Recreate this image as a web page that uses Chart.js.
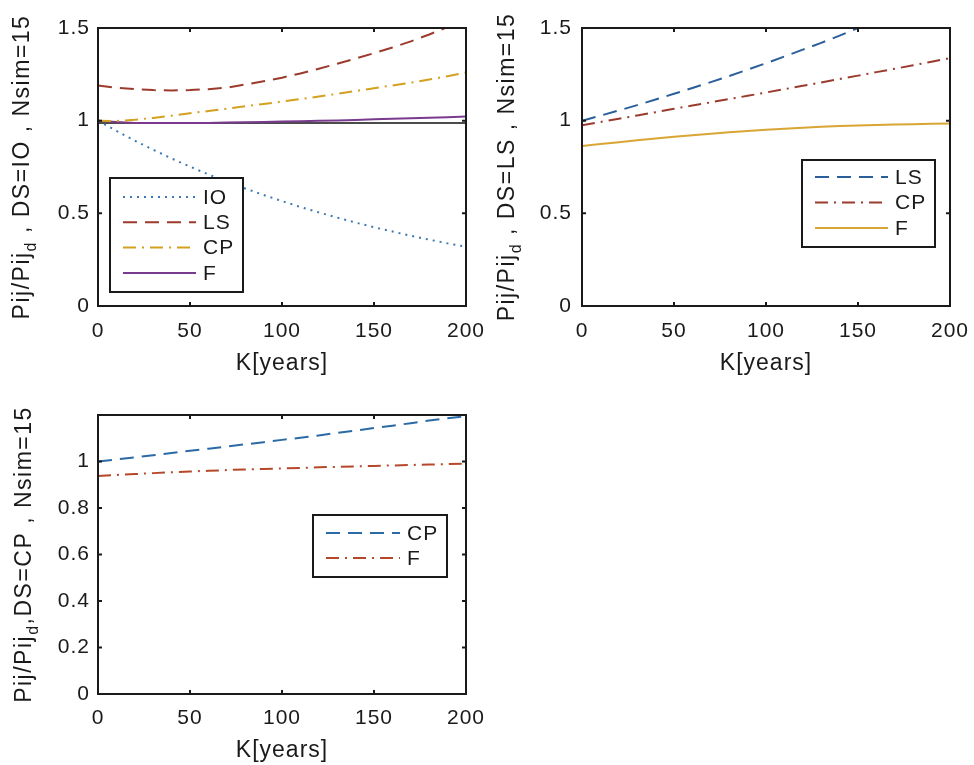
<!DOCTYPE html>
<html>
<head>
<meta charset="utf-8">
<script src="https://cdn.jsdelivr.net/npm/chart.js@4.4.1/dist/chart.umd.min.js"></script>
<style>
  html, body { margin: 0; background: #fff; }
  #wrap { position: relative; width: 974px; height: 765px; }
  canvas { position: absolute; }
  #c1 { left: 0; top: 0; }
  #c2 { left: 490px; top: 0; }
  #c3 { left: 0; top: 380px; }
</style>
</head>
<body>
<div id="wrap">
  <canvas id="c1" width="490" height="380"></canvas>
  <canvas id="c2" width="484" height="380"></canvas>
  <canvas id="c3" width="490" height="385"></canvas>
</div>
<script>
// ---- data ----
const kYears = [0, 10, 20, 30, 40, 50, 60, 70, 80, 90, 100, 110, 120, 130, 140, 150, 160, 170, 180, 190, 200];
const kTicks = [0, 50, 100, 150, 200];
const xTitle = 'K[years]';

// DS = IO
const ioTicksY = [0, 0.5, 1, 1.5];
const ioIO = [1.0, 0.945, 0.892, 0.843, 0.796, 0.752, 0.71, 0.671, 0.634, 0.599, 0.566, 0.534, 0.505, 0.477, 0.45, 0.425, 0.402, 0.379, 0.358, 0.338, 0.32];
const ioLS = [1.19, 1.178, 1.17, 1.165, 1.163, 1.165, 1.17, 1.178, 1.195, 1.213, 1.232, 1.255, 1.28, 1.307, 1.335, 1.364, 1.395, 1.428, 1.465, 1.505, 1.55];
const ioCP = [1.0, 0.998, 1.005, 1.015, 1.027, 1.04, 1.052, 1.065, 1.078, 1.09, 1.103, 1.117, 1.13, 1.145, 1.16, 1.175, 1.19, 1.205, 1.222, 1.24, 1.26];
const ioF = [1.0, 0.993, 0.988, 0.987, 0.987, 0.987, 0.988, 0.99, 0.991, 0.993, 0.995, 0.997, 0.999, 1.001, 1.004, 1.007, 1.01, 1.013, 1.016, 1.019, 1.022];
const ioBaseK = [0, 200];
const ioBase = [0.988, 0.988];
const ioTitle = [{ text: 'Pij/Pij' }, { text: 'd', sub: true }, { text: ' , DS=IO , Nsim=15' }];

// DS = LS
const lsTicksY = [0, 0.5, 1, 1.5];
const lsLS = [1.0, 1.027, 1.055, 1.084, 1.114, 1.145, 1.176, 1.208, 1.241, 1.275, 1.31, 1.346, 1.383, 1.42, 1.459, 1.5];
const lsCP = [0.975, 0.993, 1.01, 1.028, 1.046, 1.064, 1.082, 1.099, 1.117, 1.134, 1.152, 1.17, 1.188, 1.206, 1.225, 1.243, 1.262, 1.28, 1.299, 1.318, 1.337];
const lsF = [0.863, 0.874, 0.884, 0.894, 0.904, 0.913, 0.921, 0.929, 0.937, 0.944, 0.951, 0.957, 0.962, 0.967, 0.971, 0.974, 0.977, 0.979, 0.981, 0.983, 0.985];
const lsTitle = [{ text: 'Pij/Pij' }, { text: 'd', sub: true }, { text: ' , DS=LS , Nsim=15' }];

// DS = CP
const cpTicksY = [0, 0.2, 0.4, 0.6, 0.8, 1];
const cpCP = [1.0, 1.009, 1.018, 1.027, 1.037, 1.046, 1.055, 1.064, 1.074, 1.083, 1.093, 1.102, 1.112, 1.123, 1.133, 1.144, 1.154, 1.165, 1.176, 1.186, 1.195];
const cpF = [0.938, 0.942, 0.946, 0.95, 0.954, 0.957, 0.96, 0.963, 0.966, 0.968, 0.97, 0.972, 0.975, 0.977, 0.979, 0.981, 0.983, 0.985, 0.987, 0.989, 0.991];
const cpTitle = [{ text: 'Pij/Pij' }, { text: 'd', sub: true }, { text: ',DS=CP , Nsim=15' }];

// ---- styling ----
const FONT = '"Liberation Sans", Arial, Helvetica, sans-serif';
const INK = '#1a1a1a';
const DASH = [14, 8];
const DASHDOT = [13, 6, 2, 6];
const DOT = [2, 5];

Chart.defaults.font.family = FONT;
Chart.defaults.color = INK;

function pts(ks, ys) {
  return ys.map((y, i) => ({ x: ks[i], y }));
}

function line(label, ks, ys, color, dash) {
  return {
    label, data: pts(ks, ys), borderColor: color, backgroundColor: color,
    borderWidth: 2, borderDash: dash, pointRadius: 0, fill: false, tension: 0
  };
}

// box, inward ticks, legend and y title, drawn the way the old figure did
const matAxes = {
  id: 'matAxes',
  beforeDraw(chart) {
    chart.ctx.letterSpacing = '1px';
  },
  afterDatasetsDraw(chart, args, o) {
    const { ctx, chartArea: a, scales } = chart;
    ctx.save();
    ctx.letterSpacing = '0px';
    ctx.strokeStyle = INK;
    ctx.lineWidth = 2;
    ctx.setLineDash([]);
    ctx.strokeRect(a.left, a.top, a.right - a.left, a.bottom - a.top);
    ctx.beginPath();
    scales.x.ticks.forEach(t => {
      const px = scales.x.getPixelForValue(t.value);
      ctx.moveTo(px, a.bottom); ctx.lineTo(px, a.bottom - 4);
      ctx.moveTo(px, a.top); ctx.lineTo(px, a.top + 4);
    });
    scales.y.ticks.forEach(t => {
      const py = scales.y.getPixelForValue(t.value);
      ctx.moveTo(a.left, py); ctx.lineTo(a.left + 4, py);
      ctx.moveTo(a.right, py); ctx.lineTo(a.right - 4, py);
    });
    ctx.stroke();

    // legend
    const lg = o.legend;
    ctx.fillStyle = '#fff';
    ctx.fillRect(lg.left, lg.top, lg.width, lg.height);
    ctx.strokeRect(lg.left, lg.top, lg.width, lg.height);
    ctx.font = '21px ' + FONT;
    ctx.letterSpacing = '1px';
    ctx.textBaseline = 'middle';
    ctx.textAlign = 'left';
    chart.data.datasets.filter(ds => ds.label).forEach((ds, i) => {
      const y = lg.firstRow + i * lg.rowGap;
      ctx.beginPath();
      ctx.strokeStyle = ds.borderColor;
      ctx.lineWidth = 2;
      ctx.setLineDash(ds.borderDash || []);
      ctx.moveTo(lg.left + 13, y);
      ctx.lineTo(lg.left + 13 + lg.sample, y);
      ctx.stroke();
      ctx.fillStyle = INK;
      ctx.fillText(ds.label, lg.left + 13 + lg.sample + 7, y + 1);
    });

    // rotated y title with subscript
    const parts = o.yTitle;
    const main = '23px ' + FONT, small = '16px ' + FONT;
    ctx.letterSpacing = '1.5px';
    const widths = parts.map(p => { ctx.font = p.sub ? small : main; return ctx.measureText(p.text).width; });
    const total = widths.reduce((s, w) => s + w, 0);
    ctx.translate(o.yTitleX, (a.top + a.bottom) / 2);
    ctx.rotate(-Math.PI / 2);
    ctx.fillStyle = INK;
    let x = -total / 2;
    parts.forEach((p, i) => {
      ctx.font = p.sub ? small : main;
      ctx.fillText(p.text, x, p.sub ? 9 : 0);
      x += widths[i];
    });
    ctx.restore();
  }
};

function makeChart(id, datasets, yTicks, yMax, geo) {
  return new Chart(document.getElementById(id), {
    type: 'line',
    data: { datasets },
    plugins: [matAxes],
    options: {
      responsive: false,
      animation: false,
      devicePixelRatio: 1,
      layout: { padding: { left: 0, top: geo.top, right: geo.right, bottom: 0 } },
      plugins: {
        legend: { display: false },
        tooltip: { enabled: false },
        matAxes: { yTitle: geo.title, yTitleX: geo.titleX, legend: geo.legend }
      },
      scales: {
        x: {
          type: 'linear', min: 0, max: 200,
          afterBuildTicks: s => { s.ticks = kTicks.map(v => ({ value: v })); },
          afterFit: s => { s.height = geo.xHeight; s.paddingLeft = 0; s.paddingRight = 0; },
          grid: { display: false, drawTicks: false },
          border: { display: false },
          ticks: { font: { size: 21 }, color: INK, padding: geo.xPad, maxRotation: 0, autoSkip: false, callback: v => String(v) },
          title: { display: true, text: xTitle, color: INK, font: { size: 23 }, padding: { top: 0, bottom: geo.titlePad } }
        },
        y: {
          type: 'linear', min: 0, max: yMax,
          afterBuildTicks: s => { s.ticks = yTicks.map(v => ({ value: v })); },
          afterFit: s => { s.width = geo.yWidth; s.paddingTop = 0; s.paddingBottom = 0; },
          grid: { display: false, drawTicks: false },
          border: { display: false },
          ticks: { font: { size: 21 }, color: INK, padding: geo.yPad, autoSkip: false, callback: v => String(v) }
        }
      }
    }
  });
}

makeChart('c1', [
  line('IO', kYears, ioIO, '#3d79b0', DOT),
  line('LS', kYears, ioLS, '#9c3a2c', DASH),
  line('CP', kYears, ioCP, '#d4a020', DASHDOT),
  line('F', kYears, ioF, '#7a3a8e', []),
  { ...line('', ioBaseK, ioBase, '#111', []), borderWidth: 1.5 }
], ioTicksY, 1.5, {
  top: 28, right: 24, xHeight: 74, yWidth: 98, xPad: 13, yPad: 8, titlePad: 3,
  title: ioTitle, titleX: 23,
  legend: { left: 110, top: 178, width: 133, height: 114, firstRow: 197, rowGap: 25.3, sample: 73 }
});

makeChart('c2', [
  line('LS', kYears, lsLS, '#2a5f9a', DASH),
  line('CP', kYears, lsCP, '#9a3b2e', DASHDOT),
  line('F', kYears, lsF, '#d9a534', [])
], lsTicksY, 1.5, {
  top: 28, right: 24, xHeight: 74, yWidth: 92, xPad: 13, yPad: 10, titlePad: 3,
  title: lsTitle, titleX: 18,
  legend: { left: 312, top: 160, width: 133, height: 87, firstRow: 177, rowGap: 25.5, sample: 73 }
});

makeChart('c3', [
  line('CP', kYears, cpCP, '#2a6aa5', DASH),
  line('F', kYears, cpF, '#b5482a', DASHDOT)
], cpTicksY, 1.2, {
  top: 35, right: 24, xHeight: 71, yWidth: 98, xPad: 12, yPad: 8, titlePad: 1,
  title: cpTitle, titleX: 25,
  legend: { left: 313, top: 135, width: 134, height: 62, firstRow: 153, rowGap: 25, sample: 74 }
});
</script>
</body>
</html>
